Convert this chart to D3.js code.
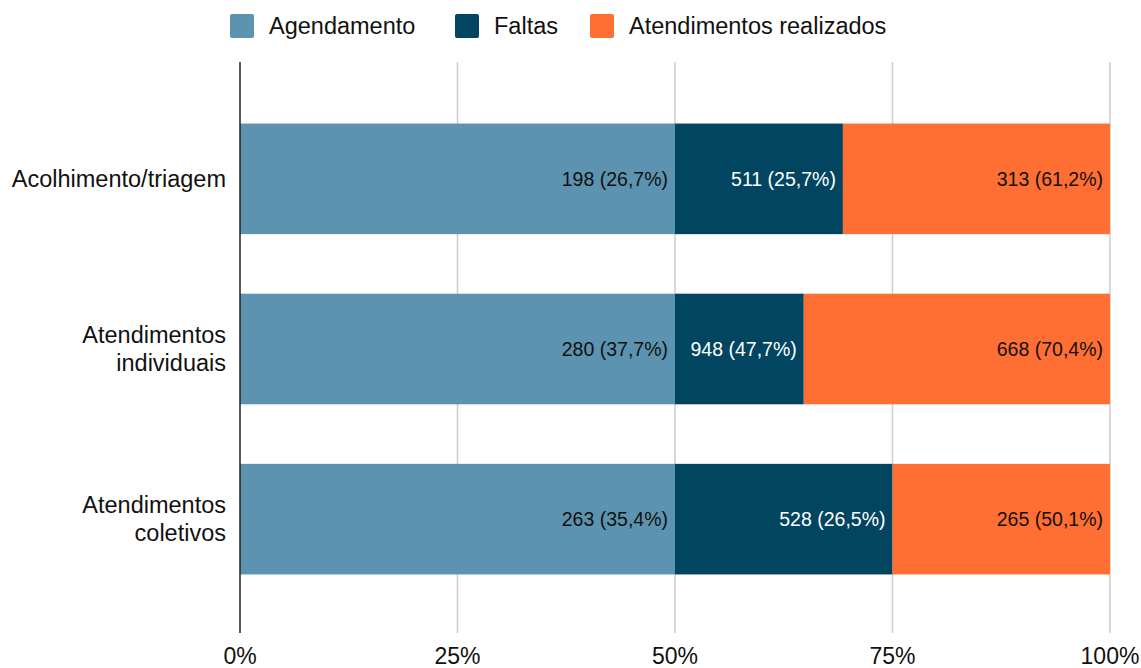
<!DOCTYPE html>
<html><head><meta charset="utf-8">
<script src="https://cdn.jsdelivr.net/npm/d3@7"></script>
<style>body{margin:0;background:#fff}svg{display:block}text{font-family:"Liberation Sans",Arial,sans-serif}</style>
</head><body><svg id="c" width="1141" height="668"></svg>
<script>
const categories = ["Acolhimento/triagem", "Atendimentos individuais", "Atendimentos coletivos"];
const seriesNames = ["Agendamento", "Faltas", "Atendimentos realizados"];
// segment shares as drawn (percent of bar)
const agendamento = [50, 50, 50];
const faltas = [19.3, 14.8, 25.0];
const atendimentos = [30.7, 35.2, 25.0];
// data labels as shown
const agendamentoLabels = ["198 (26,7%)", "280 (37,7%)", "263 (35,4%)"];
const faltasLabels = ["511 (25,7%)", "948 (47,7%)", "528 (26,5%)"];
const atendimentosLabels = ["313 (61,2%)", "668 (70,4%)", "265 (50,1%)"];
const tickValues = [0, 0.25, 0.5, 0.75, 1];
const colors = ["#5b93b0", "#014560", "#ff6e33"];
const labelColors = ["#111", "#fff", "#111"];

const svg = d3.select("#c");
const rows = categories.map((c, i) => ({cat: c, s0: agendamento[i], s1: faltas[i], s2: atendimentos[i]}));
const labels = [agendamentoLabels, faltasLabels, atendimentosLabels];
const stack = d3.stack().keys(["s0", "s1", "s2"]).offset(d3.stackOffsetExpand);
const stacked = stack(rows);

const x = d3.scaleLinear().domain([0, 1]).range([240, 1110]);
const y = d3.scaleBand().domain(categories).range([64, 634]).paddingInner(0.35).paddingOuter(0.35);

// grid
svg.append("g").selectAll("line").data(tickValues.slice(1)).join("line")
  .attr("x1", d => x(d)).attr("x2", d => x(d)).attr("y1", 62).attr("y2", 633)
  .attr("stroke", "#cccccc").attr("stroke-width", 1.5);

// bars
const g = svg.append("g");
stacked.forEach((layer, li) => {
  g.append("g").selectAll("rect").data(layer).join("rect")
    .attr("x", d => x(d[0])).attr("width", d => x(d[1]) - x(d[0]))
    .attr("y", d => y(d.data.cat)).attr("height", y.bandwidth())
    .attr("fill", colors[li]);
  g.append("g").selectAll("text").data(layer).join("text")
    .attr("x", d => x(d[1]) - 7).attr("y", d => y(d.data.cat) + y.bandwidth() / 2)
    .attr("dy", "0.35em").attr("text-anchor", "end")
    .attr("font-size", 19.5).attr("fill", labelColors[li])
    .text((d, i) => labels[li][i]);
});

// axis line
svg.append("line").attr("x1", 240).attr("x2", 240).attr("y1", 62).attr("y2", 633)
  .attr("stroke", "#222").attr("stroke-width", 1.5);

// x tick labels
svg.append("g").selectAll("text").data(tickValues).join("text")
  .attr("x", d => x(d)).attr("y", 664).attr("text-anchor", "middle")
  .attr("font-size", 23).attr("fill", "#111")
  .text(d => d3.format(".0%")(d));

// category labels
const catLines = {"Acolhimento/triagem": ["Acolhimento/triagem"], "Atendimentos individuais": ["Atendimentos", "individuais"], "Atendimentos coletivos": ["Atendimentos", "coletivos"]};
categories.forEach(c => {
  const lines = catLines[c];
  const cy = y(c) + y.bandwidth() / 2;
  lines.forEach((l, k) => {
    svg.append("text").attr("x", 226).attr("y", cy + (k - (lines.length - 1) / 2) * 28)
      .attr("dy", "0.35em").attr("text-anchor", "end").attr("font-size", 23.5).attr("fill", "#111").text(l);
  });
});

// legend
const legendX = [230, 455, 590];
const lg = svg.append("g");
seriesNames.forEach((n, i) => {
  lg.append("rect").attr("x", legendX[i]).attr("y", 14).attr("width", 24).attr("height", 24).attr("rx", 2).attr("fill", colors[i]);
  lg.append("text").attr("x", legendX[i] + 39).attr("y", 26).attr("dy", "0.35em").attr("font-size", 23.5).attr("fill", "#111").text(n);
});
</script></body></html>
